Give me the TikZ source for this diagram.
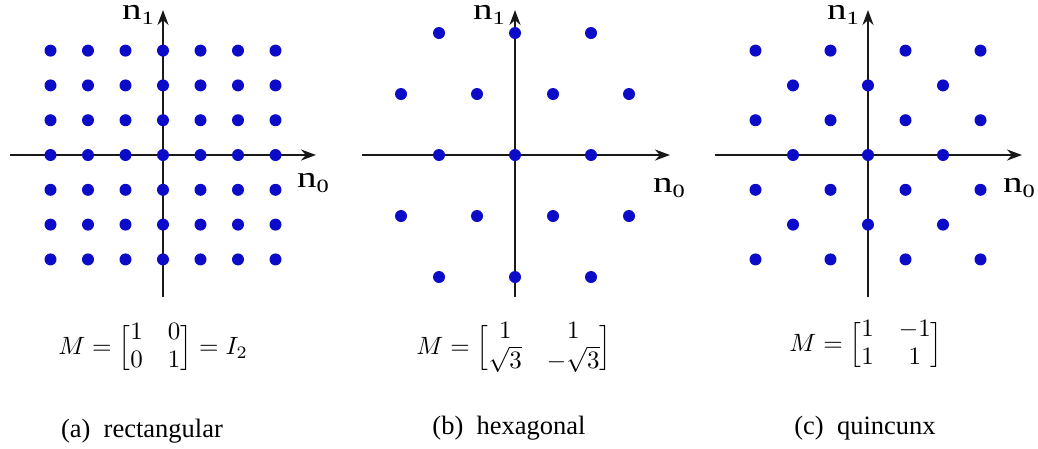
\documentclass[tikz,border=0pt]{standalone}
\usepackage{amsmath}
\usepackage{fontspec}
\setmainfont{Liberation Serif}
\usetikzlibrary{arrows.meta}
\definecolor{dotblue}{RGB}{12,12,200}
\newcommand{\smalldelims}{\delimiterfactor=700\relax\delimitershortfall=8pt\relax}
\tikzset{
  axisline/.style={line width=0.85pt, draw=black!90, -{Stealth[length=6pt,width=4.4pt]}},
  latpt/.style={circle, fill=dotblue, draw=none, minimum size=4.8pt, inner sep=0pt},
  axlabel/.style={inner sep=0pt, font=\fontsize{12}{12}\selectfont},
  mathlabel/.style={inner sep=0pt, font=\fontsize{10}{11}\selectfont},
  caplabel/.style={inner sep=0pt, font=\fontsize{10.6}{12}\selectfont}
}
\newcommand{\axlab}[1]{\scalebox{1.3}[1]{n\raisebox{-0.35ex}{\fontsize{7.5}{8}\selectfont #1}}}
\begin{document}
\begin{tikzpicture}[x=0.4pt,y=-0.4pt]
\useasboundingbox (0,0) rectangle (1038,448);
% ---------- (a) rectangular ----------
\coordinate (aL) at (10,155);  \coordinate (aR) at (316,155);
\coordinate (aB) at (163,297); \coordinate (aT) at (163,10);
\draw[axisline] (aL) -- (aR);
\draw[axisline] (aB) -- (aT);
\foreach \i in {-3,...,3}{
  \foreach \j in {-3,...,3}{
    \node[latpt] (a\i\j) at ({163+37.5*\i},{155+34.8*\j}) {};
  }
}
\node[axlabel] (an1) at (138,15) {\axlab{1}};
\node[axlabel] (an0) at (313,183) {\axlab{0}};
\node[mathlabel] (aM) at (153,348) {\smalldelims$M=\begin{bmatrix}1 & 0\\ 0 & 1\end{bmatrix}=I_2$};
\node[caplabel] (acap) at (142,431) {(a)\ \ rectangular};
% ---------- (b) hexagonal ----------
\coordinate (bL) at (362,155);  \coordinate (bR) at (670,155);
\coordinate (bB) at (515,297);  \coordinate (bT) at (515,10);
\draw[axisline] (bL) -- (bR);
\draw[axisline] (bB) -- (bT);
\foreach \j in {-2,0,2}{
  \foreach \i in {-1,0,1}{
    \node[latpt] (b\i\j) at ({515+76*\i},{155+61*\j}) {};
  }
}
\foreach \j in {-1,1}{
  \foreach \i in {-2,...,1}{
    \node[latpt] (bo\i\j) at ({553+76*\i},{155+61*\j}) {};
  }
}
\node[axlabel] (bn1) at (489,15) {\axlab{1}};
\node[axlabel] (bn0) at (669,188) {\axlab{0}};
\node[mathlabel] (bM) at (514,348) {\smalldelims$M=\begin{bmatrix}1 & 1\\ \sqrt{3} & -\sqrt{3}\end{bmatrix}$};
\node[caplabel] (bcap) at (509,428) {(b)\ \ hexagonal};
% ---------- (c) quincunx ----------
\coordinate (cL) at (715,155);  \coordinate (cR) at (1022,155);
\coordinate (cB) at (868,297);  \coordinate (cT) at (868,10);
\draw[axisline] (cL) -- (cR);
\draw[axisline] (cB) -- (cT);
\foreach \i in {-3,...,3}{
  \foreach \j in {-3,...,3}{
    \pgfmathtruncatemacro{\parity}{mod(abs(\i+\j),2)}
    \ifnum\parity=0
      \node[latpt] (c\i\j) at ({868+37.5*\i},{155+34.8*\j}) {};
    \fi
  }
}
\node[axlabel] (cn1) at (843,15) {\axlab{1}};
\node[axlabel] (cn0) at (1019,188) {\axlab{0}};
\node[mathlabel] (cM) at (866,345) {\smalldelims$M=\begin{bmatrix}1 & -1\\ 1 & 1\end{bmatrix}$};
\node[caplabel] (ccap) at (865,428) {(c)\ \ quincunx};
\end{tikzpicture}
\end{document}
